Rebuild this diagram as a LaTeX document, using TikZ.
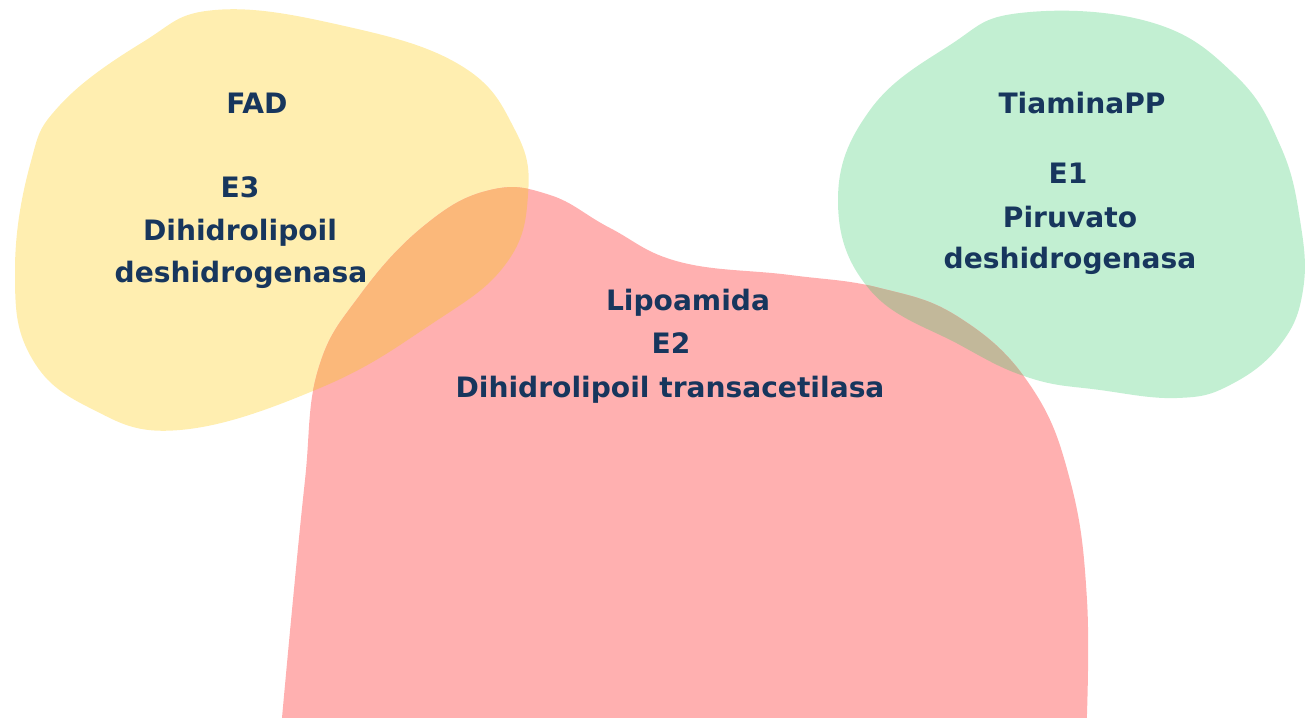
\documentclass[tikz,border=0pt]{standalone}
\usepackage{fontspec}
\setsansfont{DejaVu Sans}
\definecolor{fadyellow}{HTML}{FFEEB0}
\definecolor{lipored}{HTML}{FFB0B0}
\definecolor{tppgreen}{HTML}{C2EFD2}
\definecolor{fadlipo}{HTML}{FBB87A}
\definecolor{lipotpp}{HTML}{C2B89A}
\definecolor{textblue}{HTML}{17365D}
% blob outlines, in pixel units
\newcommand{\fadblob}{plot[smooth cycle, tension=0.7] coordinates {
  (215,10) (340,25) (460,65) (515,130) (528,195) (505,265) (430,325)
  (320,388) (180,430) (90,408) (30,355) (15,270) (30,165) (60,105)
  (143,42)}}
\newcommand{\lipoblob}{plot[smooth, tension=0.7] coordinates {
  (280,740) (292,610) (305,480) (318,370) (360,295) (425,225) (490,190)
  (550,195) (610,228) (680,262) (790,275) (880,288) (960,318) (1030,385)
  (1070,480) (1087,600) (1086,740)} -- cycle}
\newcommand{\tppblob}{plot[smooth cycle, tension=0.7] coordinates {
  (1020,13) (1150,22) (1235,75) (1280,145) (1300,220) (1303,290)
  (1280,345) (1230,385) (1177,398) (1100,390) (1030,378) (960,345)
  (870,290) (838,200) (870,110) (950,45)}}
\begin{document}
\begin{tikzpicture}[x=0.02cm, y=-0.02cm,
    lbl/.style={font=\sffamily\bfseries\fontsize{16}{19}\selectfont,
      text=textblue, inner sep=0pt, anchor=base}]
  \useasboundingbox (0,0) rectangle (1305,717);
  \clip (0,0) rectangle (1305,717);
  \fill[fadyellow] \fadblob;
  \fill[tppgreen] \tppblob;
  \fill[lipored] \lipoblob;
  \begin{scope}
    \clip \fadblob;
    \fill[fadlipo] \lipoblob;
  \end{scope}
  \begin{scope}
    \clip \tppblob;
    \fill[lipotpp] \lipoblob;
  \end{scope}
  % E3
  \node[lbl] (fad) at (257,113) {FAD};
  \node[lbl] (e3) at (240,197) {E3};
  \node[lbl] (e3a) at (240,240) {Dihidrolipoil};
  \node[lbl] (e3b) at (241,282) {deshidrogenasa};
  % E1
  \node[lbl] (tpp) at (1082,113) {TiaminaPP};
  \node[lbl] (e1) at (1068,183) {E1};
  \node[lbl] (e1a) at (1070,227) {Piruvato};
  \node[lbl] (e1b) at (1070,268) {deshidrogenasa};
  % E2
  \node[lbl] (lipo) at (688,310) {Lipoamida};
  \node[lbl] (e2) at (671,353) {E2};
  \node[lbl] (e2a) at (670,397) {Dihidrolipoil transacetilasa};
\end{tikzpicture}
\end{document}
